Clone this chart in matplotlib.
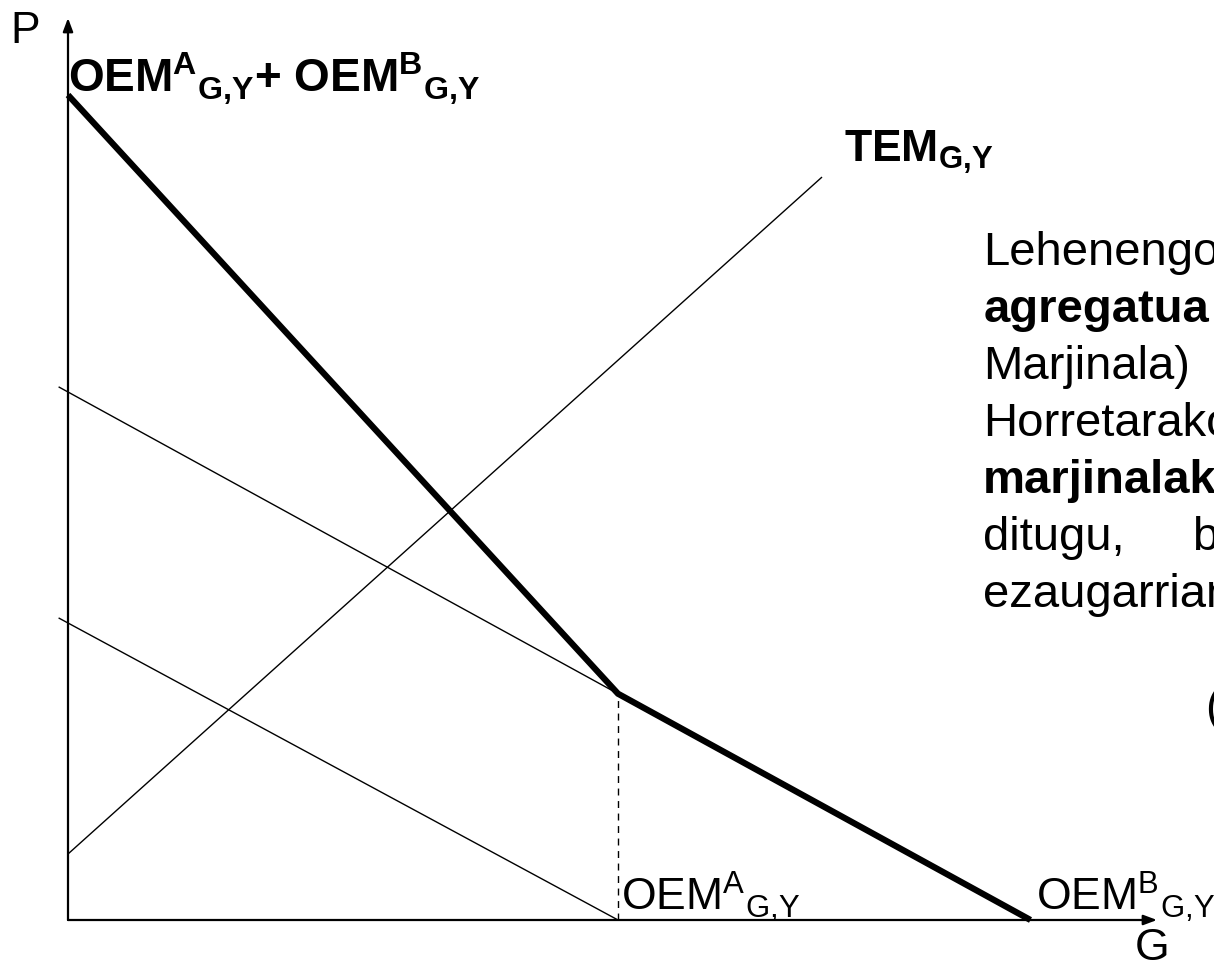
import matplotlib.pyplot as plt
import numpy as np

plt.rcParams.update({
    "font.family": "Liberation Sans",
    "mathtext.fontset": "custom",
    "mathtext.rm": "Liberation Sans",
    "mathtext.it": "Liberation Sans:italic",
    "mathtext.bf": "Liberation Sans:bold",
})

# marginal benefit lines: (price intercept, quantity intercept)
oem_a = [2.7, 5.0]
oem_b = [4.8, 8.75]
# total marginal cost line end points
tem_g = [0.0, 6.85]
tem_p = [0.6, 6.75]

g_start = -0.08      # thin lines start just left of the P axis
g_axis_end = 9.9
p_axis_end = 8.2

para_lines = ["Lehenengo", "agregatua", "Marjinala)", "Horretarako",
              "marjinalak", "ditugu,", "ezaugarrian"]
para_weights = ["normal", "bold", "normal", "normal", "bold", "normal", "normal"]


def oem(line, g):
    g = np.asarray(g, dtype=float)
    return line[0] * (1.0 - g / line[1])


fig = plt.figure(figsize=(12.14, 9.67), dpi=100)
ax = fig.add_axes([0, 0, 1, 1])
ax.set_xlim(-68 / 110, 1146 / 110)
ax.set_ylim(-47 / 110, 920 / 110)
ax.axis("off")

# axes with arrow heads
arrow = dict(arrowstyle="-|>,head_length=0.8,head_width=0.3",
             lw=1.6, color="k", shrinkA=0, shrinkB=0)
ax.annotate("", xy=(0, p_axis_end), xytext=(0, 0), arrowprops=arrow)
ax.annotate("", xy=(g_axis_end, 0), xytext=(0, 0), arrowprops=arrow)

# individual curves
ga = np.array([g_start, oem_a[1]])
gb = np.array([g_start, oem_b[1]])
ax.plot(ga, oem(oem_a, ga), c="k", lw=1.0)
ax.plot(gb, oem(oem_b, gb), c="k", lw=1.0)
ax.plot(tem_g, tem_p, c="k", lw=1.0)

# vertical sum (kinked at the end of A's curve)
gs = np.array([0.0, oem_a[1], oem_b[1]])
ps = np.clip(oem(oem_a, gs), 0, None) + oem(oem_b, gs)
ax.plot(gs, ps, c="k", lw=4.5, solid_capstyle="butt", solid_joinstyle="miter")
ax.plot([oem_a[1], oem_a[1]], [0, ps[1]], c="k", lw=1.0, ls=(0, (5, 4)))

fs = 32
ax.text(-0.527, 7.97, "P", fontsize=fs, va="baseline")
ax.text(9.86, -0.36, "G", fontsize=fs, va="baseline", ha="center")
ax.text(0.0, 7.52,
        r"$\mathbf{OEM}^{\mathbf{A}}{}_{\mathbf{G{,}Y}}\mathbf{+\ OEM}^{\mathbf{B}}{}_{\mathbf{G{,}Y}}$",
        fontsize=fs + 1, va="baseline")
ax.text(7.05, 6.89, r"$\mathbf{TEM}_{\mathbf{G{,}Y}}$", fontsize=fs, va="baseline")
ax.text(oem_a[1] + 0.03, 0.09, r"$\mathrm{OEM}^{\mathrm{A}}{}_{\mathrm{G{,}Y}}$",
        fontsize=fs, va="baseline")
ax.text(oem_b[1] + 0.05, 0.09, r"$\mathrm{OEM}^{\mathrm{B}}{}_{\mathrm{G{,}Y}}$",
        fontsize=fs, va="baseline")

# explanatory paragraph on the right (runs off the page)
pfs = 34
y0, dy = 5.955, 0.518
for i, (s, w) in enumerate(zip(para_lines, para_weights)):
    ax.text(8.32, y0 - i * dy, s, fontsize=pfs, fontweight=w, va="baseline")
ax.text(10.22, y0 - 5 * dy, "b", fontsize=pfs, va="baseline")
ax.text(10.34, y0 - 8 * dy, "(", fontsize=pfs, va="baseline")

fig.savefig("out.png", dpi=100)
